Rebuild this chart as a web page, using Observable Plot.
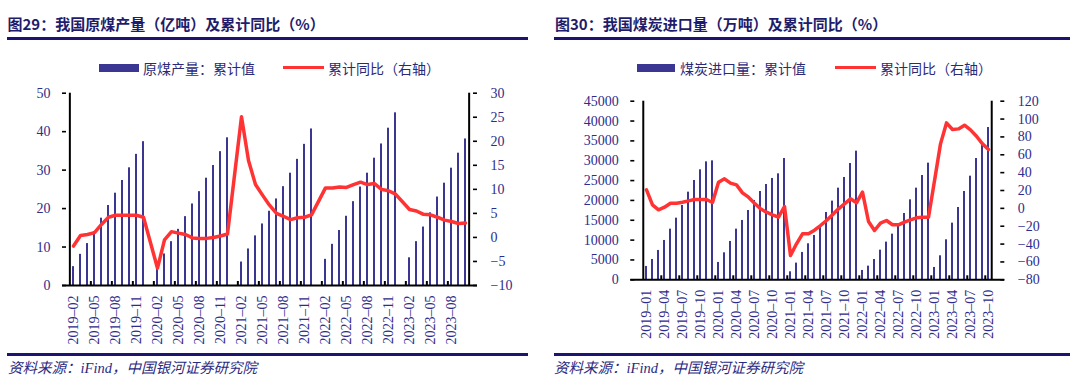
<!DOCTYPE html>
<html><head><meta charset="utf-8">
<script src="https://cdn.jsdelivr.net/npm/d3@7"></script>
<script src="https://cdn.jsdelivr.net/npm/@observablehq/plot@0.6"></script>
<style>
body{margin:0;background:#fff;width:1080px;height:384px;overflow:hidden;position:relative;font-family:"Noto Sans CJK SC",sans-serif;}
.panel{position:absolute;top:0;width:540px;height:384px;}
.title{position:absolute;top:14px;font-size:15px;font-weight:bold;color:#1f1c6b;white-space:nowrap;line-height:20px;}
.rule{position:absolute;height:3px;background:#1b1470;}
.legtxt{position:absolute;top:57.5px;font-size:14px;color:#2c2a78;line-height:20px;white-space:nowrap;}
.sw{position:absolute;}
.cap{position:absolute;top:359px;font-size:14.5px;font-style:italic;font-family:"Liberation Serif","Times New Roman","DejaVu Serif","Noto Sans CJK SC",serif;color:#2c2a80;line-height:18px;white-space:nowrap;}
.chart{position:absolute;top:85px;left:0;}
.chart svg text{font-family:"Liberation Serif","Times New Roman","DejaVu Serif",serif !important;}
</style></head><body>
<div class="panel" style="left:0">
  <div class="title" style="left:7.5px">图29：我国原煤产量（亿吨）及累计同比（%）</div>
  <div class="rule" style="left:7px;width:521px;top:37px"></div>
  <div class="sw" style="left:99px;top:63.5px;width:40px;height:8px;background:#3a3691"></div>
  <div class="legtxt" style="left:143px">原煤产量：累计值</div>
  <div class="sw" style="left:283px;top:66px;width:41px;height:3px;background:#ff3333"></div>
  <div class="legtxt" style="left:328px">累计同比（右轴）</div>
  <div class="chart" id="c1"></div>
  <div class="rule" style="left:7px;width:521px;top:353px"></div>
  <div class="cap" style="left:8px">资料来源：iFind，中国银河证券研究院</div>
</div>
<div class="panel" style="left:540px">
  <div class="title" style="left:15px">图30：我国煤炭进口量（万吨）及累计同比（%）</div>
  <div class="rule" style="left:14px;width:516px;top:37px"></div>
  <div class="sw" style="left:97px;top:63.5px;width:38px;height:8px;background:#3a3691"></div>
  <div class="legtxt" style="left:140px">煤炭进口量：累计值</div>
  <div class="sw" style="left:295px;top:66px;width:41px;height:3px;background:#ff3333"></div>
  <div class="legtxt" style="left:340px">累计同比（右轴）</div>
  <div class="chart" id="c2"></div>
  <div class="rule" style="left:14px;width:516px;top:353px"></div>
  <div class="cap" style="left:14px">资料来源：iFind，中国银河证券研究院</div>
</div>
<script>
// ---------- Chart 29: raw coal production ----------
const months1 = [
  "2019-02","2019-03","2019-04","2019-05","2019-06","2019-07","2019-08","2019-09","2019-10","2019-11","2019-12",
  "2020-01","2020-02","2020-03","2020-04","2020-05","2020-06","2020-07","2020-08","2020-09","2020-10","2020-11","2020-12",
  "2021-01","2021-02","2021-03","2021-04","2021-05","2021-06","2021-07","2021-08","2021-09","2021-10","2021-11","2021-12",
  "2022-01","2022-02","2022-03","2022-04","2022-05","2022-06","2022-07","2022-08","2022-09","2022-10","2022-11","2022-12",
  "2023-01","2023-02","2023-03","2023-04","2023-05","2023-06","2023-07","2023-08","2023-09","2023-10"
];
const output1 = [
  4.9, 8.1, 10.9, 14.0, 17.5, 20.8, 24.0, 27.3, 30.6, 34.1, 37.4,
  null, 5.5, 8.2, 11.4, 14.6, 17.9, 21.2, 24.4, 27.9, 31.2, 34.8, 38.4,
  null, 6.1, 9.5, 12.9, 16.0, 19.3, 22.5, 25.7, 29.2, 32.8, 36.7, 40.7,
  null, 6.8, 10.7, 14.3, 18.0, 21.8, 25.6, 29.2, 33.1, 36.8, 40.9, 44.9,
  null, 7.2, 11.4, 15.2, 18.9, 23.0, 26.6, 30.5, 34.4, 38.1
];
const yoy1 = [
  -1.8, 0.4, 0.6, 1.0, 2.7, 4.2, 4.6, 4.6, 4.6, 4.6, 4.2,
  null, -6.4, -0.5, 1.2, 0.9, 0.6, -0.1, -0.2, -0.2, 0.0, 0.3, 0.7,
  null, 25.1, 16.0, 11.0, 8.8, 6.7, 5.0, 4.4, 3.7, 4.1, 4.2, 4.7,
  null, 10.3, 10.3, 10.5, 10.4, 11.0, 11.5, 11.0, 11.2, 10.0, 9.7, 9.0,
  null, 5.8, 5.5, 4.8, 4.7, 4.2, 3.6, 3.3, 2.9, 3.0
];
const xLabels1 = ["2019-02","2019-05","2019-08","2019-11","2020-02","2020-05","2020-08","2020-11","2021-02","2021-05","2021-08","2021-11","2022-02","2022-05","2022-08","2022-11","2023-02","2023-05","2023-08"];
const leftTicks1 = [0, 10, 20, 30, 40, 50];
const rightTicks1 = [-10, -5, 0, 5, 10, 15, 20, 25, 30];

// ---------- Chart 30: coal imports ----------
const months2 = [
  "2019-01","2019-02","2019-03","2019-04","2019-05","2019-06","2019-07","2019-08","2019-09","2019-10","2019-11","2019-12",
  "2020-01","2020-02","2020-03","2020-04","2020-05","2020-06","2020-07","2020-08","2020-09","2020-10","2020-11","2020-12",
  "2021-01","2021-02","2021-03","2021-04","2021-05","2021-06","2021-07","2021-08","2021-09","2021-10","2021-11","2021-12",
  "2022-01","2022-02","2022-03","2022-04","2022-05","2022-06","2022-07","2022-08","2022-09","2022-10","2022-11","2022-12",
  "2023-01","2023-02","2023-03","2023-04","2023-05","2023-06","2023-07","2023-08","2023-09","2023-10"
];
const imports2 = [
  3360, 5120, 7390, 9910, 12760, 15530, 18720, 22080, 25020, 27710, 29720, 29970,
  4370, 6800, 9660, 12760, 14950, 17460, 19980, 22250, 24010, 25530, 26700, 30560,
  2015, 4200, 6890, 9070, 11170, 13270, 16960, 19820, 23090, 25780, 29300, 32410,
  2350, 3440, 5120, 7470, 9490, 11500, 13690, 16710, 20150, 23090, 26280, 29390,
  3110, 6050, 10080, 14270, 18220, 22250, 26110, 30560, 34000, 38370
];
const yoy2 = [
  20.7, 3.9, -1.6, 1.3, 5.8, 5.8, 6.9, 8.4, 9.9, 9.9, 9.9, 6.6,
  29.3, 33.1, 28.2, 26.3, 17.4, 12.5, 5.8, -0.5, -4.3, -7.2, -9.9, 2.1,
  -52.8, -39.7, -28.5, -28.5, -24.5, -19.2, -13.6, -7.2, -0.5, 5.1, 10.7, 6.2,
  18.1, -14.7, -24.8, -16.6, -13.6, -18.4, -18.4, -15.4, -12.8, -10.6, -9.9, -9.9,
  31.0, 72.2, 95.7, 88.3, 89.0, 93.1, 87.9, 80.8, 72.2, 65.9
];
const xLabels2 = ["2019-01","2019-04","2019-07","2019-10","2020-01","2020-04","2020-07","2020-10","2021-01","2021-04","2021-07","2021-10","2022-01","2022-04","2022-07","2022-10","2023-01","2023-04","2023-07","2023-10"];
const leftTicks2 = [0, 5000, 10000, 15000, 20000, 25000, 30000, 35000, 40000, 45000];
const rightTicks2 = [-80, -60, -40, -20, 0, 20, 40, 60, 80, 100, 120];

const BAR = "#3a3691", RED = "#ff3333", INK = "#000";
const minus = v => (v < 0 ? "\u2212" + Math.abs(v) : String(v));

function dualChart(o) {
  const {cats, bars, yoy, xTicks, lDom, rDom, lTicks, rTicks, width, height, ml, mr, mt, mb, pad, tickPadX} = o;
  const data = cats.map((c, i) => ({c, b: bars[i], r: yoy[i]}));
  const toL = v => lDom[0] + (v - rDom[0]) / (rDom[1] - rDom[0]) * (lDom[1] - lDom[0]);
  const fromL = v => rDom[0] + (v - lDom[0]) / (lDom[1] - lDom[0]) * (rDom[1] - rDom[0]);
  const n = cats.length;
  const pw = width - ml - mr, ph = height - mt - mb, bw = pw / n;
  const tickCats = cats.filter((c, i) => i > 0 && i % 3 === 0);
  return Plot.plot({
    width, height, marginLeft: ml, marginRight: mr, marginTop: mt, marginBottom: mb,
    style: {fontFamily: "'Liberation Serif', 'Times New Roman', 'DejaVu Serif', serif", fontSize: "14px", color: "#2e2c8c", background: "transparent", overflow: "visible"},
    x: {type: "band", domain: cats, paddingInner: pad, paddingOuter: pad / 2, axis: null},
    y: {domain: lDom, axis: null},
    marks: [
      Plot.barY(data.filter(d => d.b != null), {x: "c", y: "b", fill: BAR}),
      Plot.lineY(data.filter(d => d.r != null), {x: "c", y: d => toL(d.r), stroke: RED, strokeWidth: 3.5, strokeLinejoin: "round"}),
      Plot.ruleY([lDom[0]], {stroke: INK, strokeWidth: 2}),
      Plot.ruleX([cats[0]], {x: d => d, dx: -bw / 2, stroke: INK, strokeWidth: 2}),
      Plot.ruleX([cats[n - 1]], {x: d => d, dx: bw / 2, stroke: INK, strokeWidth: 2}),
      Plot.ruleY(lTicks, {y: d => d, insetRight: pw - 4, stroke: INK, strokeWidth: 1.6}),
      Plot.ruleY(rTicks, {y: d => toL(d), insetLeft: pw - 4, stroke: INK, strokeWidth: 1.6}),
      Plot.ruleX(tickCats, {x: d => d, dx: -bw / 2, insetTop: ph - 4, stroke: INK, strokeWidth: 2}),
      Plot.axisY(lTicks, {anchor: "left", tickSize: 0, tickPadding: 12, tickFormat: d => String(d), label: null}),
      Plot.axisY(rTicks.map(toL), {anchor: "right", tickSize: 0, tickPadding: 13, tickFormat: v => minus(Math.round(fromL(v))), label: null}),
      Plot.axisX(xTicks, {anchor: "bottom", tickRotate: -90, tickSize: 0, tickPadding: tickPadX, tickFormat: d => d.replace("-", "\u2013"), label: null})
    ]
  });
}

document.getElementById("c1").appendChild(dualChart({
  cats: months1, bars: output1, yoy: yoy1, xTicks: xLabels1,
  lDom: [0, 50], rDom: [-10, 30], lTicks: leftTicks1, rTicks: rightTicks1,
  width: 540, height: 265, ml: 62, mr: 63, mt: 7.7, mb: 65, pad: 0.68, tickPadX: 10
}));
document.getElementById("c2").appendChild(dualChart({
  cats: months2, bars: imports2, yoy: yoy2, xTicks: xLabels2,
  lDom: [0, 45000], rDom: [-80, 120], lTicks: leftTicks2, rTicks: rightTicks2,
  width: 540, height: 265, ml: 90.3, mr: 75.7, mt: 15.7, mb: 70.7, pad: 0.66, tickPadX: 10
}));
</script>
</body></html>
